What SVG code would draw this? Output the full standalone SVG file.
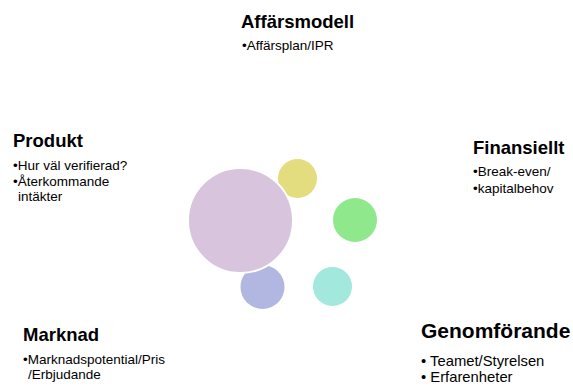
<svg xmlns="http://www.w3.org/2000/svg" width="573" height="387" viewBox="0 0 573 387">
<style>
text{font-family:"Liberation Sans",Arial,sans-serif;fill:#000}
.h{font-weight:bold;font-size:18.5px}
.b{font-size:13.5px}
.hb{font-weight:bold;font-size:21px}
.bb{font-size:14.8px}
</style>
<rect width="573" height="387" fill="#fff"/>
<g id="connectors"></g>
<g id="circles">
<circle id="c-yellow" cx="297.5" cy="178.5" r="19.5" fill="#e3dd80"/>
<circle id="c-blue" cx="262.5" cy="287" r="22" fill="#b1b7e0"/>
<circle id="c-green" cx="355" cy="220" r="22" fill="#8fe88b"/>
<circle id="c-teal" cx="332.5" cy="286.5" r="19.5" fill="#a2e8dc"/>
<circle id="c-purple" cx="240.5" cy="220.5" r="52.5" fill="#d9c4de" stroke="#fff" stroke-width="2"/>
</g>
<g id="affarsmodell">
<text class="h" x="241" y="28">Affärsmodell</text>
<text class="b" x="242" y="50">•Affärsplan/IPR</text>
</g>
<g id="produkt">
<text class="h" x="13" y="147">Produkt</text>
<text class="b" x="13" y="170">•Hur väl verifierad?</text>
<text class="b" x="13" y="186">•Återkommande</text>
<text class="b" x="18" y="201">intäkter</text>
</g>
<g id="finansiellt">
<text class="h" x="473" y="154">Finansiellt</text>
<text class="b" x="473" y="176">•Break-even/</text>
<text class="b" x="473" y="193">•kapitalbehov</text>
</g>
<g id="marknad">
<text class="h" x="23" y="341">Marknad</text>
<text class="b" x="23" y="364">•Marknadspotential/Pris</text>
<text class="b" x="28" y="379">/Erbjudande</text>
</g>
<g id="genomforande">
<text class="hb" x="421" y="338">Genomförande</text>
<text class="bb" x="421" y="366">• Teamet/Styrelsen</text>
<text class="bb" x="421" y="382">• Erfarenheter</text>
</g>
</svg>
